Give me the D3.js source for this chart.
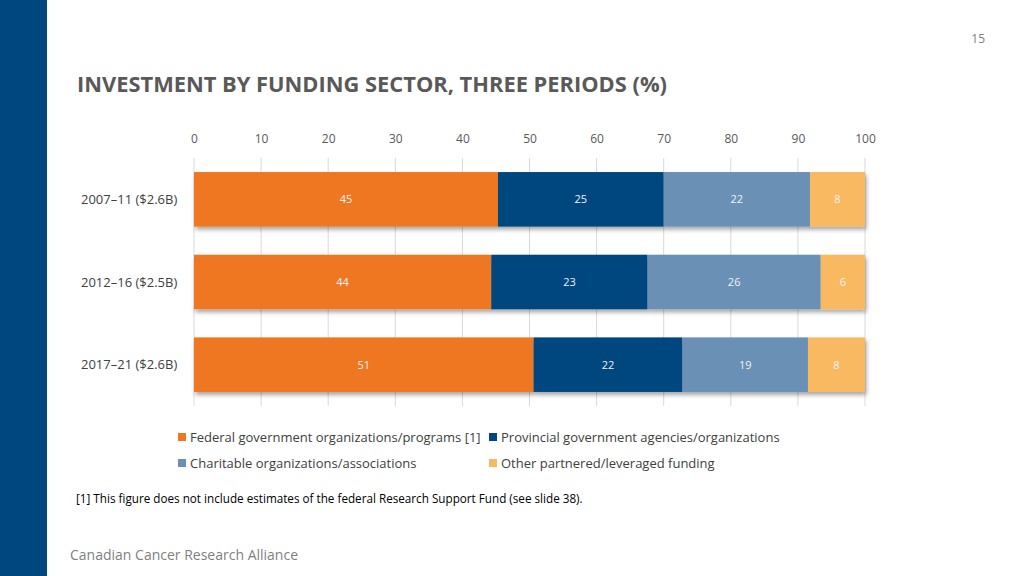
<!DOCTYPE html>
<html><head><meta charset="utf-8">
<script src="https://cdn.jsdelivr.net/npm/d3@7"></script>
<style>
body{margin:0;background:#fff;}
svg text{font-family:"Open Sans","Noto Sans",sans-serif;}
</style></head>
<body>
<svg id="c" width="1024" height="576"></svg>
<script>
const categories = ["2007–11 ($2.6B)", "2012–16 ($2.5B)", "2017–21 ($2.6B)"];
const seriesNames = ["Federal government organizations/programs [1]", "Provincial government agencies/organizations", "Charitable organizations/associations", "Other partnered/leveraged funding"];
const federal = [45.3, 44.3, 50.6];
const provincial = [24.7, 23.3, 22.2];
const charitable = [21.8, 25.8, 18.7];
const other = [8.2, 6.6, 8.5];
const federalLabels = ["45", "44", "51"];
const provincialLabels = ["25", "23", "22"];
const charitableLabels = ["22", "26", "19"];
const otherLabels = ["8", "6", "8"];
const ticks = [0, 10, 20, 30, 40, 50, 60, 70, 80, 90, 100];
const colors = ["#F07722", "#00477F", "#6B90B6", "#F9B961"];

const series = [federal, provincial, charitable, other];
const labels = [federalLabels, provincialLabels, charitableLabels, otherLabels];

const svg = d3.select("#c");
const defs = svg.append("defs");
const f = defs.append("filter").attr("id","sh").attr("x","-5%").attr("y","-20%").attr("width","110%").attr("height","150%");
f.append("feDropShadow").attr("dx",1.5).attr("dy",3).attr("stdDeviation",2).attr("flood-color","#000").attr("flood-opacity",0.35);

// sidebar
svg.append("rect").attr("x",0).attr("y",0).attr("width",47).attr("height",576).attr("fill","#00477F");

svg.append("text").attr("x",985).attr("y",43).attr("text-anchor","end").attr("font-size",12).attr("fill","#7f7f7f").text("15");

svg.append("text").attr("x",77).attr("y",92).attr("font-size",20.5).attr("font-weight",700).attr("fill","#595959")
  .attr("textLength",590).attr("lengthAdjust","spacingAndGlyphs")
  .text("INVESTMENT BY FUNDING SECTOR, THREE PERIODS (%)");

const x = d3.scaleLinear().domain([0,100]).range([194,865]);
const y = d3.scaleBand().domain(categories).range([158,406]).paddingInner(0.34).paddingOuter(0.17);

// grid
svg.append("g").selectAll("line").data(ticks).join("line")
  .attr("x1",d=>x(d)).attr("x2",d=>x(d)).attr("y1",158).attr("y2",406)
  .attr("stroke","#d9d9d9").attr("stroke-width",1);

// axis
const ax = svg.append("g").attr("transform","translate(0,143)")
  .call(d3.axisTop(x).tickValues(ticks).tickSize(0).tickPadding(0).tickFormat(d3.format("d")));
ax.select(".domain").remove();
ax.selectAll("text").attr("font-size",12).attr("fill","#595959").attr("font-family","'Open Sans',sans-serif");

// category labels
svg.append("g").selectAll("text").data(categories).join("text")
  .attr("x",81).attr("y",d=>y(d)+y.bandwidth()/2+4.5)
  .attr("font-size",13).attr("fill","#404040").text(d=>d);

// stacked data
const stacked = categories.map((c,i)=>{
  let acc=0;
  return series.map((s,k)=>{const r={cat:c,k,x0:acc,x1:acc+s[i],lab:labels[k][i]}; acc+=s[i]; return r;});
});

const bars = svg.append("g").attr("filter","url(#sh)");
stacked.forEach(row=>{
  bars.selectAll(null).data(row).join("rect")
    .attr("x",d=>x(d.x0)).attr("width",d=>x(d.x1)-x(d.x0))
    .attr("y",d=>y(d.cat)).attr("height",y.bandwidth())
    .attr("fill",d=>colors[d.k]);
});
const lg = svg.append("g");
stacked.forEach(row=>{
  lg.selectAll(null).data(row).join("text")
    .attr("x",d=>(x(d.x0)+x(d.x1))/2).attr("y",d=>y(d.cat)+y.bandwidth()/2+4)
    .attr("text-anchor","middle").attr("font-size",11).attr("fill","#eef3f8").text(d=>d.lab);
});

// legend
const legPos = [[178,442],[489,442],[178,468],[489,468]];
const leg = svg.append("g").selectAll("g").data(seriesNames).join("g")
  .attr("transform",(d,i)=>`translate(${legPos[i][0]},${legPos[i][1]})`);
leg.append("rect").attr("x",0).attr("y",-9).attr("width",8).attr("height",8).attr("fill",(d,i)=>colors[i]);
leg.append("text").attr("x",12).attr("y",0).attr("font-size",13).attr("fill","#404040").text(d=>d);

svg.append("text").attr("x",76).attr("y",503).attr("font-size",11.7).attr("fill","#000").text("[1] This figure does not include estimates of the federal Research Support Fund (see slide 38).");

svg.append("text").attr("x",70).attr("y",560).attr("font-size",14).attr("fill","#7f7f7f").text("Canadian Cancer Research Alliance");
</script>
</body></html>
